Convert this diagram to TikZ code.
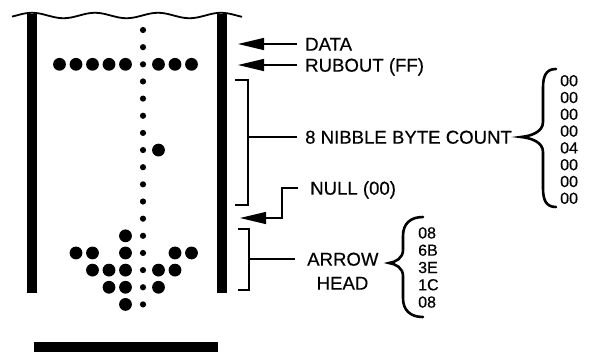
\documentclass[tikz,border=0pt]{standalone}
\usepackage{fontspec}
\setmainfont{Liberation Sans}
\newfontfamily\lblfont{Liberation Sans}[FakeBold=0.4]
\usetikzlibrary{arrows.meta}
\begin{document}
\begin{tikzpicture}[x=1pt,y=-1pt,
  lbl/.style={font=\lblfont\fontsize{18.6}{23}\selectfont, anchor=west, inner xsep=8pt, inner ysep=0pt, text height=13.3pt, text depth=0pt},
  hexlist/.style={font=\lblfont\fontsize{16}{16.8}\selectfont, align=left, anchor=west, inner sep=0pt},
  ptr/.style={line width=1.3pt, -{Triangle[length=26pt,width=12pt]}},
  brk/.style={line width=1.2pt},
  curly/.style={line width=2.6pt, line cap=round},
  hole/.style={fill=black},
]
\useasboundingbox (0,0) rectangle (589,354);
% torn top edge
\draw[line width=1.8pt] plot[domain=12:242,samples=120,smooth] (\x,{15.5-2.7*cos(5.714*(\x-32))});
% tape edges and bottom bar
\fill (27,14) rectangle (36.5,293);
\fill (217,14) rectangle (226.5,293);
\fill (34,342) rectangle (218,352);
% sprocket holes
\foreach \k in {0,...,16} \fill[hole] (143,{30+17.15*\k}) circle (3.1pt);
% data holes
\foreach \px/\py in {59.5/64.3,76/64.3,92.5/64.3,109/64.3,125.5/64.3,158.5/64.3,175/64.3,191.5/64.3,
  158.5/150.05,
  125.5/235.8,
  76/252.95,92.5/252.95,125.5/252.95,175/252.95,191.5/252.95,
  92.5/270.1,109/270.1,125.5/270.1,158.5/270.1,175/270.1,
  109/287.25,125.5/287.25,158.5/287.25,
  125.5/304.4}
  \fill[hole] (\px,\py) circle (6.4pt);
% pointers
\node[lbl] (data) at (297,44) {DATA};
\coordinate (dataTip) at (238,44);
\draw[ptr] (data.west) -- (dataTip);
\node[lbl] (rub) at (297,65) {RUBOUT (FF)};
\coordinate (rubTip) at (238,65);
\draw[ptr] (rub.west) -- (rubTip);
\node[lbl, inner xsep=12pt] (null) at (298,188) {NULL (00)};
\coordinate (nullTip) at (240,218);
\draw[ptr] (null.west) -- ++(-16,0) |- (nullTip);
% byte count bracket
\coordinate (b1t) at (235,80);
\coordinate (b1b) at (235,205);
\coordinate (b1m) at (248,137);
\draw[brk] (b1t) -- (248,80) -- (248,205) -- (b1b);
\node[lbl] (count) at (297,137) {8 NIBBLE BYTE COUNT};
\draw[brk] (b1m) -- (count.west);
% arrow head bracket
\coordinate (b2t) at (238,229);
\coordinate (b2b) at (238,290);
\coordinate (b2m) at (249,259);
\draw[brk] (b2t) -- (249,229) -- (249,290) -- (b2b);
\node[lbl, inner xsep=12pt] (arrowlbl) at (295,259) {ARROW};
\node[lbl, anchor=center, inner xsep=0pt] (headlbl) at (342.5,283) {HEAD};
\draw[brk] (b2m) -- (arrowlbl.west);
% curly braces
\draw[curly] (556,69) .. controls (546,69) and (543,76) .. (543,88) -- (543,122)
  .. controls (543,132) and (531,136) .. (521,137)
  .. controls (531,138) and (543,142) .. (543,152) -- (543,188)
  .. controls (543,200) and (546,207) .. (556,207);
\node[hexlist] (cntvals) at (560,139.5) {00\\00\\00\\00\\04\\00\\00\\00};
\draw[curly] (423,217) .. controls (410,217) and (403,224) .. (403,236) -- (403,250)
  .. controls (403,258) and (396,262) .. (389,263)
  .. controls (396,264) and (403,268) .. (403,276) -- (403,298)
  .. controls (403,310) and (410,317) .. (423,317);
\node[hexlist, font=\lblfont\fontsize{16}{17.3}\selectfont] (headvals) at (418,267.5) {08\\6B\\3E\\1C\\08};
\end{tikzpicture}
\end{document}
